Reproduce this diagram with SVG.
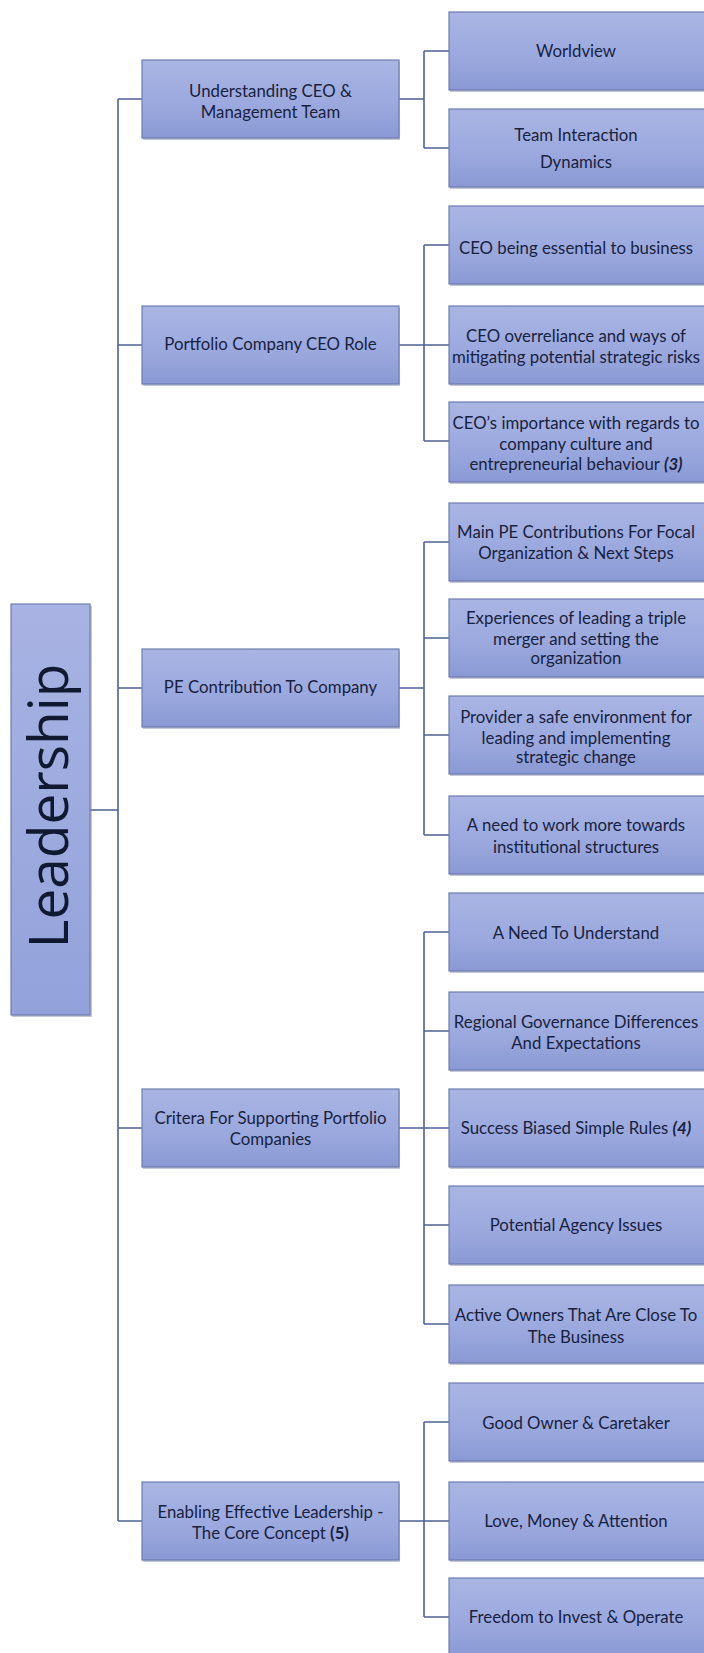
<svg xmlns="http://www.w3.org/2000/svg" width="704" height="1653" viewBox="0 0 704 1653">
  <defs>
    <linearGradient id="boxFill" x1="0" y1="0" x2="0" y2="1">
      <stop offset="0" stop-color="#aab5e3"/>
      <stop offset="0.6" stop-color="#9aa8de"/>
      <stop offset="1" stop-color="#8a99d3"/>
    </linearGradient>
    <linearGradient id="rootFill" x1="0" y1="0" x2="0" y2="1">
      <stop offset="0" stop-color="#a8b3e3"/>
      <stop offset="1" stop-color="#93a2db"/>
    </linearGradient>
  </defs>
  <style>
    .box { fill: url(#boxFill); stroke: #6d7cb0; stroke-width: 1.2; }
    .shadow { fill: #7d859f; opacity: 0.45; }
    .root { fill: url(#rootFill); stroke: #6d7cb0; stroke-width: 1.2; }
    .lbl { font-family: Lato, "Liberation Sans", sans-serif; font-size: 16.8px; fill: #18223f; text-anchor: middle; }
    .big { font-family: "Open Sans", "Liberation Sans", sans-serif; font-size: 55px; fill: #0f1a30; text-anchor: middle; }
    .em { font-weight: bold; font-style: italic; }
    .b { font-weight: bold; }
    .wire { fill: none; stroke: #4f6196; stroke-width: 1.6; }
  </style>

  <!-- connectors -->
  <g id="connectors">
    <path class="wire" d="M90 810 H118 M118 99 V1521 M118 99 H142 M118 345 H142 M118 688 H142 M118 1128 H142 M118 1521 H142"/>
    <path class="wire" d="M399 99 H424 M424 51 V148 M424 51 H449 M424 148 H449"/>
    <path class="wire" d="M399 345 H424 M424 245 V441 M424 245 H449 M424 345 H449 M424 441 H449"/>
    <path class="wire" d="M399 688 H424 M424 542 V835 M424 542 H449 M424 638 H449 M424 735 H449 M424 835 H449"/>
    <path class="wire" d="M399 1128 H424 M424 932 V1324 M424 932 H449 M424 1031 H449 M424 1128 H449 M424 1225 H449 M424 1324 H449"/>
    <path class="wire" d="M399 1521 H424 M424 1422 V1617 M424 1422 H449 M424 1521 H449 M424 1617 H449"/>
  </g>

  <!-- root -->
  <g id="leadership">
    <rect class="shadow" x="12" y="606" width="80" height="411"/>
    <rect class="root" x="11" y="604" width="79" height="411"/>
    <text class="big" transform="translate(68,806) rotate(-90)" x="0" y="0">Leadership</text>
  </g>

  <!-- second level -->
  <g id="understanding">
    <rect class="shadow" x="143" y="62" width="257" height="78"/>
    <rect class="box" x="142" y="60" width="257" height="78"/>
    <text class="lbl" x="270.5" y="97">Understanding CEO &amp;</text>
    <text class="lbl" x="270.5" y="118">Management Team</text>
  </g>
  <g id="ceo-role">
    <rect class="shadow" x="143" y="308" width="257" height="78"/>
    <rect class="box" x="142" y="306" width="257" height="78"/>
    <text class="lbl" x="270.5" y="350">Portfolio Company CEO Role</text>
  </g>
  <g id="pe-contribution">
    <rect class="shadow" x="143" y="651" width="257" height="78"/>
    <rect class="box" x="142" y="649" width="257" height="78"/>
    <text class="lbl" x="270.5" y="693">PE Contribution To Company</text>
  </g>
  <g id="criteria">
    <rect class="shadow" x="143" y="1091" width="257" height="78"/>
    <rect class="box" x="142" y="1089" width="257" height="78"/>
    <text class="lbl" x="270.5" y="1124">Critera For Supporting Portfolio</text>
    <text class="lbl" x="270.5" y="1145">Companies</text>
  </g>
  <g id="enabling">
    <rect class="shadow" x="143" y="1484" width="257" height="78"/>
    <rect class="box" x="142" y="1482" width="257" height="78"/>
    <text class="lbl" x="270.5" y="1518">Enabling Effective Leadership -</text>
    <text class="lbl" x="270.5" y="1539">The Core Concept <tspan class="b">(5)</tspan></text>
  </g>

  <!-- third level -->
  <g id="worldview">
    <rect class="shadow" x="450" y="14" width="258" height="78"/>
    <rect class="box" x="449" y="12" width="258" height="78"/>
    <text class="lbl" x="576" y="57">Worldview</text>
  </g>
  <g id="team-interaction">
    <rect class="shadow" x="450" y="111" width="258" height="78"/>
    <rect class="box" x="449" y="109" width="258" height="78"/>
    <text class="lbl" x="576" y="141">Team Interaction</text>
    <text class="lbl" x="576" y="168">Dynamics</text>
  </g>
  <g id="ceo-essential">
    <rect class="shadow" x="450" y="208" width="258" height="78"/>
    <rect class="box" x="449" y="206" width="258" height="78"/>
    <text class="lbl" x="576" y="254">CEO being essential to business</text>
  </g>
  <g id="ceo-overreliance">
    <rect class="shadow" x="450" y="308" width="258" height="78"/>
    <rect class="box" x="449" y="306" width="258" height="78"/>
    <text class="lbl" x="576" y="342">CEO overreliance and ways of</text>
    <text class="lbl" x="576" y="363">mitigating potential strategic risks</text>
  </g>
  <g id="ceo-culture">
    <rect class="shadow" x="450" y="404" width="258" height="80"/>
    <rect class="box" x="449" y="402" width="258" height="80"/>
    <text class="lbl" x="576" y="429">CEO’s importance with regards to</text>
    <text class="lbl" x="576" y="450">company culture and</text>
    <text class="lbl" x="576" y="470">entrepreneurial  behaviour <tspan class="em">(3)</tspan></text>
  </g>
  <g id="main-pe">
    <rect class="shadow" x="450" y="505" width="258" height="78"/>
    <rect class="box" x="449" y="503" width="258" height="78"/>
    <text class="lbl" x="576" y="538">Main PE Contributions For Focal</text>
    <text class="lbl" x="576" y="559">Organization &amp; Next Steps</text>
  </g>
  <g id="triple-merger">
    <rect class="shadow" x="450" y="601" width="258" height="78"/>
    <rect class="box" x="449" y="599" width="258" height="78"/>
    <text class="lbl" x="576" y="624">Experiences  of leading a triple</text>
    <text class="lbl" x="576" y="645">merger  and setting the</text>
    <text class="lbl" x="576" y="664">organization</text>
  </g>
  <g id="safe-environment">
    <rect class="shadow" x="450" y="698" width="258" height="78"/>
    <rect class="box" x="449" y="696" width="258" height="78"/>
    <text class="lbl" x="576" y="723">Provider a safe environment for</text>
    <text class="lbl" x="576" y="744">leading and implementing</text>
    <text class="lbl" x="576" y="763">strategic  change</text>
  </g>
  <g id="institutional">
    <rect class="shadow" x="450" y="798" width="258" height="78"/>
    <rect class="box" x="449" y="796" width="258" height="78"/>
    <text class="lbl" x="576" y="831">A need to work more towards</text>
    <text class="lbl" x="576" y="853">institutional structures</text>
  </g>
  <g id="need-to-understand">
    <rect class="shadow" x="450" y="895" width="258" height="78"/>
    <rect class="box" x="449" y="893" width="258" height="78"/>
    <text class="lbl" x="576" y="939">A Need To Understand</text>
  </g>
  <g id="regional-governance">
    <rect class="shadow" x="450" y="994" width="258" height="78"/>
    <rect class="box" x="449" y="992" width="258" height="78"/>
    <text class="lbl" x="576" y="1028">Regional Governance Differences</text>
    <text class="lbl" x="576" y="1049">And Expectations</text>
  </g>
  <g id="simple-rules">
    <rect class="shadow" x="450" y="1091" width="258" height="78"/>
    <rect class="box" x="449" y="1089" width="258" height="78"/>
    <text class="lbl" x="576" y="1134">Success Biased Simple Rules <tspan class="em">(4)</tspan></text>
  </g>
  <g id="agency-issues">
    <rect class="shadow" x="450" y="1188" width="258" height="78"/>
    <rect class="box" x="449" y="1186" width="258" height="78"/>
    <text class="lbl" x="576" y="1231">Potential Agency Issues</text>
  </g>
  <g id="active-owners">
    <rect class="shadow" x="450" y="1287" width="258" height="78"/>
    <rect class="box" x="449" y="1285" width="258" height="78"/>
    <text class="lbl" x="576" y="1321">Active Owners That Are Close To</text>
    <text class="lbl" x="576" y="1343">The Business</text>
  </g>
  <g id="good-owner">
    <rect class="shadow" x="450" y="1385" width="258" height="78"/>
    <rect class="box" x="449" y="1383" width="258" height="78"/>
    <text class="lbl" x="576" y="1429">Good Owner &amp; Caretaker</text>
  </g>
  <g id="love-money">
    <rect class="shadow" x="450" y="1484" width="258" height="78"/>
    <rect class="box" x="449" y="1482" width="258" height="78"/>
    <text class="lbl" x="576" y="1527">Love, Money &amp; Attention</text>
  </g>
  <g id="freedom">
    <rect class="shadow" x="450" y="1580" width="258" height="78"/>
    <rect class="box" x="449" y="1578" width="258" height="78"/>
    <text class="lbl" x="576" y="1623">Freedom to Invest &amp; Operate</text>
  </g>
</svg>
